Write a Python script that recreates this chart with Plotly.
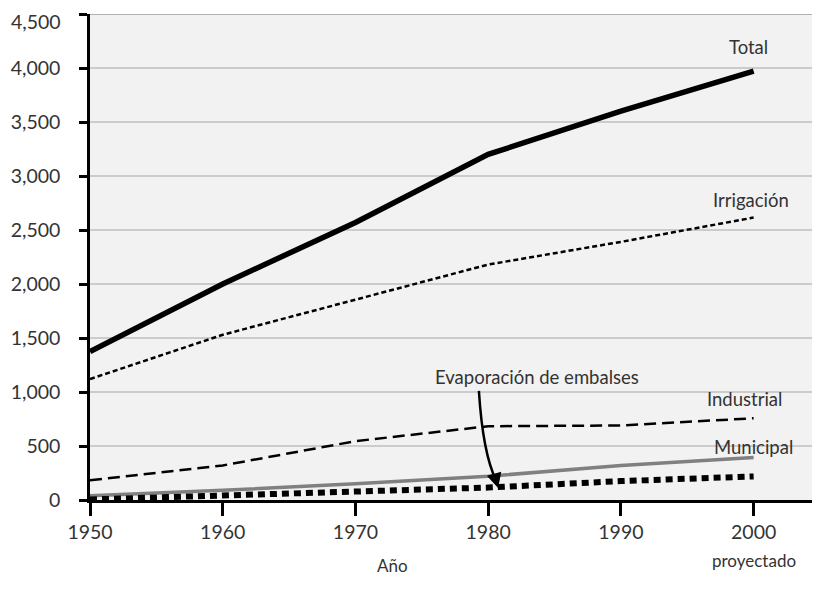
import plotly.graph_objects as go

years = [1950, 1960, 1970, 1980, 1990, 2000]
total = [1375, 2000, 2570, 3200, 3600, 3970]
irrigacion = [1120, 1530, 1855, 2180, 2390, 2615]
industrial = [183, 320, 545, 683, 690, 757]
municipal = [40, 90, 150, 220, 320, 393]
evaporacion = [5, 40, 75, 115, 175, 218]

y_ticks = [0, 500, 1000, 1500, 2000, 2500, 3000, 3500, 4000, 4500]
y_labels = ["0", "500", "1,000", "1,500", "2,000", "2,500", "3,000", "3,500", "4,000", "4,500"]
x_ticks = [1950, 1960, 1970, 1980, 1990, 2000]

FONT = "Lato"
TXT = "#333333"

fig = go.Figure()
fig.add_trace(go.Scatter(x=years, y=municipal, mode="lines",
                         line=dict(color="#808080", width=3.5), name="Municipal"))
fig.add_trace(go.Scatter(x=years, y=evaporacion, mode="lines",
                         line=dict(color="black", width=6, dash="7px,5px"), name="Evaporación de embalses"))
fig.add_trace(go.Scatter(x=years, y=industrial, mode="lines",
                         line=dict(color="black", width=2.5, dash="12px,6px"), name="Industrial"))
fig.add_trace(go.Scatter(x=years, y=irrigacion, mode="lines",
                         line=dict(color="black", width=2.5, dash="5px,3px"), name="Irrigación"))
fig.add_trace(go.Scatter(x=years, y=total, mode="lines",
                         line=dict(color="black", width=5.5), name="Total"))

labels = [
    ("Total", 1998.0, 4195),
    ("Irrigación", 1996.8, 2778),
    ("Industrial", 1996.3, 935),
    ("Municipal", 1996.9, 490),
]
for t, x, y in labels:
    fig.add_annotation(x=x, y=y, text=t, showarrow=False, xanchor="left", yanchor="middle",
                       font=dict(family=FONT, size=18.5, color=TXT))

fig.add_annotation(x=1983.7, y=1139, text="Evaporación de embalses", showarrow=False,
                   xanchor="center", yanchor="middle", font=dict(family=FONT, size=18.5, color=TXT))

# curved arrow
fig.add_shape(type="path", xref="x", yref="y",
              path="M 1979.3,1010 Q 1979.6,430 1980.6,180",
              line=dict(color="black", width=2.5))
fig.add_annotation(x=1980.75, y=110, ax=1980.45, ay=240, xref="x", yref="y", axref="x", ayref="y",
                   text="", showarrow=True, arrowhead=2, arrowsize=1.2, arrowwidth=2.5, arrowcolor="black")

# top border line of the plot area (at 4,500)
fig.add_shape(type="line", xref="paper", yref="y", x0=0, x1=1, y0=4500, y1=4500,
              line=dict(color="#b0b0b0", width=2))
# the top tick label sits a little lower so that it fits on the page
fig.add_annotation(x=0, xref="paper", xanchor="right", xshift=-27, y=y_ticks[-1], yref="y",
                   yanchor="middle", yshift=-7, text=y_labels[-1], showarrow=False,
                   font=dict(family=FONT, size=19.5, color=TXT))

fig.add_annotation(x=2000, y=0, yref="paper", text="proyectado", showarrow=False,
                   yanchor="middle", yshift=-60, font=dict(family=FONT, size=17, color=TXT))
fig.add_annotation(x=1972.8, y=0, yref="paper", text="Año", showarrow=False,
                   yanchor="middle", yshift=-65, font=dict(family=FONT, size=17, color=TXT))

# page has an 8px body margin: compensate so the plot lands where the reference has it
fig.update_layout(
    width=812, height=595,
    margin=dict(l=82, r=0, t=6, b=103),
    paper_bgcolor="white", plot_bgcolor="#f2f2f2",
    showlegend=False,
    font=dict(family=FONT, size=19, color=TXT),
)
fig.update_xaxes(range=[1950, 2005], tickvals=x_ticks, ticks="outside", ticklen=13,
                 tickwidth=2.5, tickcolor="black", showgrid=False, showline=True,
                 linecolor="black", linewidth=2.5, zeroline=False, automargin=False,
                 ticklabeloverflow="allow",
                 tickfont=dict(family=FONT, size=19.5, color=TXT))
fig.update_yaxes(range=[0, 4500], tickvals=y_ticks, ticktext=y_labels[:-1] + [""],
                 ticks="outside", ticklen=8, tickwidth=2.5, tickcolor="black", showgrid=True,
                 gridcolor="#cccccc", gridwidth=2, showline=True, linecolor="black",
                 linewidth=2.5, zeroline=False, automargin=False,
                 ticklabeloverflow="allow", ticklabelstandoff=15,
                 tickfont=dict(family=FONT, size=19.5, color=TXT))

fig.write_html("out.html")
